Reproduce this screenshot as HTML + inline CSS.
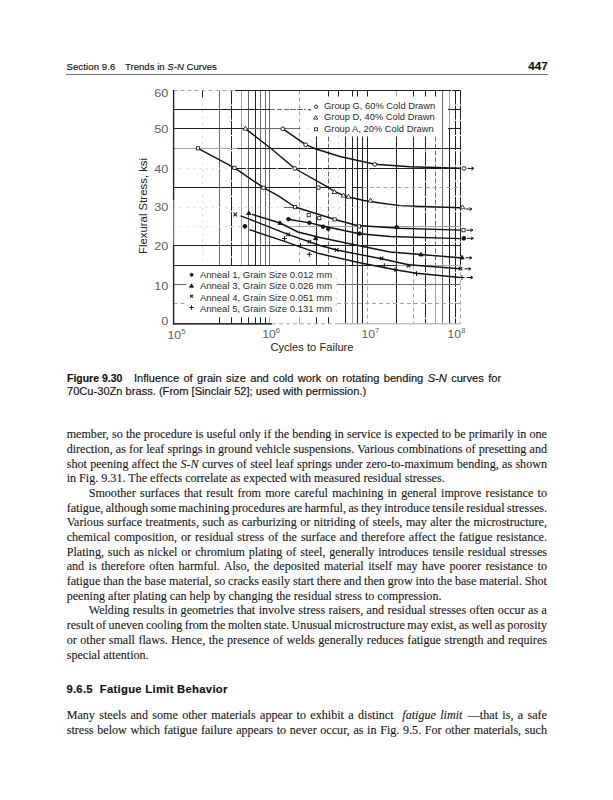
<!DOCTYPE html>
<html><head><meta charset="utf-8">
<style>
html,body{margin:0;padding:0;background:#fff;}
body{width:613px;height:800px;position:relative;overflow:hidden;color:#161616;}
.abs{position:absolute;white-space:nowrap;}
.sans{font-family:"Liberation Sans",sans-serif;color:#111;-webkit-text-stroke:0.15px #111;}
.ln{position:absolute;left:66.7px;width:480.3px;font-family:"Liberation Serif",serif;font-size:12.1px;line-height:14.68px;text-align:justify;text-align-last:justify;white-space:nowrap;-webkit-text-stroke:0.1px #161616;}
.ln.last{text-align-last:left;}
svg text{font-family:"Liberation Sans",sans-serif;fill:#222;}
.lg1{font-size:9px;fill:#2a2a2a;}
.lg2{font-size:8.7px;fill:#2a2a2a;}
.tk{font-size:10.6px;fill:#606060;}
.ax{font-size:10.3px;}
</style></head><body>
<div class="abs" style="left:66px;top:73.9px;width:481.6px;height:1.3px;background:#707070;"></div>
<svg class="abs" style="left:0;top:0" width="613" height="370" viewBox="0 0 613 370">
<line x1="202.5" y1="90.5" x2="202.5" y2="97.5" stroke="#202020" stroke-width="1.0"/>
<line x1="202.5" y1="97.5" x2="202.5" y2="265.5" stroke="#d0d0d0" stroke-width="1.0" stroke-dasharray="1.5 5"/>
<line x1="219.5" y1="90.5" x2="219.5" y2="265.5" stroke="#6a6a6a" stroke-width="1.0"/>
<line x1="231.5" y1="90.5" x2="231.5" y2="265.5" stroke="#202020" stroke-width="1.0" stroke-dasharray="14 1.2"/>
<line x1="241.5" y1="90.5" x2="241.5" y2="265.5" stroke="#a5a5a5" stroke-width="1.0"/>
<line x1="248.5" y1="90.5" x2="248.5" y2="265.5" stroke="#6a6a6a" stroke-width="1.0"/>
<line x1="255.5" y1="90.5" x2="255.5" y2="265.5" stroke="#202020" stroke-width="1.0"/>
<line x1="260.5" y1="90.5" x2="260.5" y2="265.5" stroke="#6a6a6a" stroke-width="1.0"/>
<line x1="265.5" y1="90.5" x2="265.5" y2="265.5" stroke="#6a6a6a" stroke-width="1.0"/>
<line x1="269.5" y1="90.5" x2="269.5" y2="265.5" stroke="#6a6a6a" stroke-width="1.0"/>
<line x1="299.5" y1="90.5" x2="299.5" y2="265.5" stroke="#a5a5a5" stroke-width="1.0" stroke-dasharray="4 3"/>
<line x1="316.5" y1="136.5" x2="316.5" y2="265.5" stroke="#202020" stroke-width="1.0"/>
<line x1="328.5" y1="136.5" x2="328.5" y2="265.5" stroke="#6a6a6a" stroke-width="1.0" stroke-dasharray="5 2"/>
<line x1="338.5" y1="136.5" x2="338.5" y2="265.5" stroke="#d0d0d0" stroke-width="1.0" stroke-dasharray="1.5 5"/>
<line x1="345.5" y1="136.5" x2="345.5" y2="323.8" stroke="#202020" stroke-width="1.0"/>
<line x1="352.5" y1="136.5" x2="352.5" y2="265.5" stroke="#202020" stroke-width="1.0"/>
<line x1="352.5" y1="265.5" x2="352.5" y2="323.8" stroke="#a5a5a5" stroke-width="1.0"/>
<line x1="357.5" y1="136.5" x2="357.5" y2="323.8" stroke="#202020" stroke-width="1.0"/>
<line x1="362.5" y1="136.5" x2="362.5" y2="323.8" stroke="#202020" stroke-width="1.0"/>
<line x1="367.5" y1="136.5" x2="367.5" y2="265.5" stroke="#202020" stroke-width="1.0"/>
<line x1="367.5" y1="265.5" x2="367.5" y2="323.8" stroke="#a5a5a5" stroke-width="1.0" stroke-dasharray="4 3"/>
<line x1="396.5" y1="136.5" x2="396.5" y2="323.8" stroke="#202020" stroke-width="1.0"/>
<line x1="413.5" y1="136.5" x2="413.5" y2="265.5" stroke="#202020" stroke-width="1.0"/>
<line x1="413.5" y1="265.5" x2="413.5" y2="323.8" stroke="#a5a5a5" stroke-width="1.0" stroke-dasharray="4 3"/>
<line x1="425.5" y1="136.5" x2="425.5" y2="323.8" stroke="#202020" stroke-width="1.0" stroke-dasharray="14 1.2"/>
<line x1="435.5" y1="136.5" x2="435.5" y2="265.5" stroke="#6a6a6a" stroke-width="1.0" stroke-dasharray="5 2"/>
<line x1="435.5" y1="265.5" x2="435.5" y2="323.8" stroke="#a5a5a5" stroke-width="1.0"/>
<line x1="442.5" y1="90.5" x2="442.5" y2="323.8" stroke="#6a6a6a" stroke-width="1.0"/>
<line x1="449.5" y1="90.5" x2="449.5" y2="128.5" stroke="#a5a5a5" stroke-width="1.0"/>
<line x1="449.5" y1="128.5" x2="449.5" y2="323.8" stroke="#202020" stroke-width="1.0"/>
<line x1="455.5" y1="90.5" x2="455.5" y2="323.8" stroke="#202020" stroke-width="1.0" stroke-dasharray="14 1.2"/>
<line x1="460.5" y1="90.5" x2="460.5" y2="265.5" stroke="#202020" stroke-width="1.0" stroke-dasharray="14 1.2"/>
<line x1="460.5" y1="265.5" x2="460.5" y2="323.8" stroke="#a5a5a5" stroke-width="1.0" stroke-dasharray="4 3"/>
<line x1="336.5" y1="278" x2="336.5" y2="317" stroke="#d0d0d0" stroke-width="1.0" stroke-dasharray="1.5 5"/>
<line x1="328.5" y1="90.5" x2="328.5" y2="96.5" stroke="#202020" stroke-width="1.0"/>
<line x1="338.5" y1="90.5" x2="338.5" y2="96.5" stroke="#202020" stroke-width="1.0"/>
<line x1="352.5" y1="90.5" x2="352.5" y2="96.5" stroke="#202020" stroke-width="1.0"/>
<line x1="357.5" y1="90.5" x2="357.5" y2="96.5" stroke="#202020" stroke-width="1.0"/>
<line x1="367.5" y1="90.5" x2="367.5" y2="96.5" stroke="#202020" stroke-width="1.0"/>
<line x1="413.5" y1="90.5" x2="413.5" y2="96.5" stroke="#202020" stroke-width="1.0"/>
<line x1="425.5" y1="90.5" x2="425.5" y2="96.5" stroke="#202020" stroke-width="1.0"/>
<line x1="435.5" y1="90.5" x2="435.5" y2="96.5" stroke="#202020" stroke-width="1.0"/>
<line x1="396.5" y1="90.5" x2="396.5" y2="96.5" stroke="#a5a5a5" stroke-width="1.0"/>
<line x1="219.5" y1="317.3" x2="219.5" y2="323.8" stroke="#202020" stroke-width="1.0"/>
<line x1="231.5" y1="317.3" x2="231.5" y2="323.8" stroke="#202020" stroke-width="1.0"/>
<line x1="241.5" y1="317.3" x2="241.5" y2="323.8" stroke="#202020" stroke-width="1.0"/>
<line x1="248.5" y1="317.3" x2="248.5" y2="323.8" stroke="#202020" stroke-width="1.0"/>
<line x1="255.5" y1="317.3" x2="255.5" y2="323.8" stroke="#202020" stroke-width="1.0"/>
<line x1="260.5" y1="317.3" x2="260.5" y2="323.8" stroke="#202020" stroke-width="1.0"/>
<line x1="265.5" y1="317.3" x2="265.5" y2="323.8" stroke="#202020" stroke-width="1.0"/>
<line x1="316.5" y1="317.3" x2="316.5" y2="323.8" stroke="#202020" stroke-width="1.0"/>
<line x1="328.5" y1="317.3" x2="328.5" y2="323.8" stroke="#202020" stroke-width="1.0"/>
<line x1="269.5" y1="317.3" x2="269.5" y2="323.8" stroke="#a5a5a5" stroke-width="1.0"/>
<line x1="299.5" y1="317.3" x2="299.5" y2="323.8" stroke="#a5a5a5" stroke-width="1.0"/>
<line x1="173.5" y1="90.5" x2="235" y2="90.5" stroke="#a5a5a5" stroke-width="1.0" stroke-dasharray="4 3"/>
<line x1="235" y1="90.5" x2="437" y2="90.5" stroke="#202020" stroke-width="1.0"/>
<line x1="437" y1="90.5" x2="460.5" y2="90.5" stroke="#202020" stroke-width="1.0" stroke-dasharray="14 1.2"/>
<line x1="173.5" y1="109.5" x2="270" y2="109.5" stroke="#202020" stroke-width="1.0"/>
<line x1="270" y1="109.5" x2="306" y2="109.5" stroke="#6a6a6a" stroke-width="1.0" stroke-dasharray="5 2"/>
<line x1="448" y1="109.5" x2="460.5" y2="109.5" stroke="#202020" stroke-width="1.0"/>
<line x1="173.5" y1="128.5" x2="245" y2="128.5" stroke="#202020" stroke-width="1.0"/>
<line x1="245" y1="128.5" x2="300" y2="128.5" stroke="#6a6a6a" stroke-width="1.0"/>
<line x1="300" y1="128.5" x2="313" y2="128.5" stroke="#d0d0d0" stroke-width="1.0" stroke-dasharray="1.5 5"/>
<line x1="448" y1="128.5" x2="460.5" y2="128.5" stroke="#202020" stroke-width="1.0"/>
<line x1="173.5" y1="148.5" x2="237" y2="148.5" stroke="#a5a5a5" stroke-width="1.0"/>
<line x1="237" y1="148.5" x2="460.5" y2="148.5" stroke="#202020" stroke-width="1.0"/>
<line x1="173.5" y1="168.5" x2="232" y2="168.5" stroke="#d0d0d0" stroke-width="1.0" stroke-dasharray="1.5 5"/>
<line x1="232" y1="168.5" x2="370" y2="168.5" stroke="#202020" stroke-width="1.0" stroke-dasharray="14 1.2"/>
<line x1="370" y1="168.5" x2="460.5" y2="168.5" stroke="#202020" stroke-width="1.0"/>
<line x1="173.5" y1="187.5" x2="345" y2="187.5" stroke="#202020" stroke-width="1.0"/>
<line x1="352" y1="187.5" x2="362.5" y2="187.5" stroke="#202020" stroke-width="1.0"/>
<line x1="362.5" y1="187.5" x2="460.5" y2="187.5" stroke="#a5a5a5" stroke-width="1.0" stroke-dasharray="4 3"/>
<line x1="173.5" y1="207.5" x2="284" y2="207.5" stroke="#d0d0d0" stroke-width="1.0" stroke-dasharray="1.5 5"/>
<line x1="284" y1="207.5" x2="295" y2="207.5" stroke="#6a6a6a" stroke-width="1.0"/>
<line x1="300" y1="207.5" x2="413" y2="207.5" stroke="#d0d0d0" stroke-width="1.0" stroke-dasharray="1.5 5"/>
<line x1="413" y1="207.5" x2="460.5" y2="207.5" stroke="#a5a5a5" stroke-width="1.0"/>
<line x1="173.5" y1="226.5" x2="290" y2="226.5" stroke="#d0d0d0" stroke-width="1.0" stroke-dasharray="1.5 5"/>
<line x1="290" y1="226.5" x2="460.5" y2="226.5" stroke="#a5a5a5" stroke-width="1.0"/>
<line x1="173.5" y1="245.5" x2="460.5" y2="245.5" stroke="#202020" stroke-width="1.0"/>
<line x1="173.5" y1="265.5" x2="396.5" y2="265.5" stroke="#202020" stroke-width="1.0"/>
<line x1="396.5" y1="265.5" x2="460.5" y2="265.5" stroke="#a5a5a5" stroke-width="1.0"/>
<line x1="173.5" y1="284.5" x2="186" y2="284.5" stroke="#6a6a6a" stroke-width="1.0"/>
<line x1="337" y1="284.5" x2="460.5" y2="284.5" stroke="#6a6a6a" stroke-width="1.0"/>
<line x1="173.5" y1="303.5" x2="186" y2="303.5" stroke="#a5a5a5" stroke-width="1.0" stroke-dasharray="4 3"/>
<line x1="337" y1="303.5" x2="460.5" y2="303.5" stroke="#a5a5a5" stroke-width="1.0" stroke-dasharray="4 3"/>
<line x1="173" y1="323.8" x2="272" y2="323.8" stroke="#202020" stroke-width="1.0"/>
<line x1="272" y1="323.8" x2="337" y2="323.8" stroke="#a5a5a5" stroke-width="1.0" stroke-dasharray="4 3"/>
<line x1="337" y1="323.8" x2="460.5" y2="323.8" stroke="#a5a5a5" stroke-width="1.0"/>
<line x1="290" y1="109.5" x2="306" y2="109.5" stroke="#6a6a6a" stroke-width="1.0" stroke-dasharray="5 2"/>
<line x1="308" y1="109.8" x2="311" y2="109.8" stroke="#202020" stroke-width="1.0"/>
<line x1="173.6" y1="90" x2="173.6" y2="200" stroke="#202020" stroke-width="1.4"/>
<line x1="173.6" y1="200" x2="173.6" y2="245" stroke="#6a6a6a" stroke-width="1.2"/>
<line x1="173.6" y1="245" x2="173.6" y2="324.4" stroke="#202020" stroke-width="1.4"/>
<line x1="173" y1="323.8" x2="272" y2="323.8" stroke="#202020" stroke-width="1.3"/>
<path d="M282.6,128.6 L305.7,144.6 L316,149 L340,156.5 L360,161 L375,164.3 L410,166.8 L460,168.3" fill="none" stroke="#111" stroke-width="1.4" stroke-linejoin="round"/>
<path d="M245.4,128.6 L270.7,148.3 L294.8,168.5 L328.3,187.3 L334.4,191.5 L343.5,195.3 L352,197.8 L364,200.5 L380,203 L400,205.6 L460,207.7" fill="none" stroke="#111" stroke-width="1.4" stroke-linejoin="round"/>
<path d="M198,148.3 L234.5,167.8 L263.5,187.7 L278.8,196.2 L295,207 L335,219.5 L357,225.5 L400,228.3 L460,230.1" fill="none" stroke="#111" stroke-width="1.4" stroke-linejoin="round"/>
<path d="M288.3,219.3 L309.6,222.9 L323.8,226.2 L359.5,233.7 L390,236.5 L460,238.6" fill="none" stroke="#111" stroke-width="1.4" stroke-linejoin="round"/>
<path d="M252,214.3 L280,223 L298,232 L320,237.5 L352,244.2 L390,252 L421,254.5 L460,257.8" fill="none" stroke="#111" stroke-width="1.4" stroke-linejoin="round"/>
<path d="M240.6,215.8 L288,234.3 L320,245.5 L336.6,250 L381.5,258.8 L408.5,264.8 L460,268.8" fill="none" stroke="#111" stroke-width="1.4" stroke-linejoin="round"/>
<path d="M249.4,229.6 L284.5,241.4 L320,253.8 L362,263.3 L398,270.3 L416.5,273.3 L460,277.5" fill="none" stroke="#111" stroke-width="1.4" stroke-linejoin="round"/>
<circle cx="282.8" cy="128.8" r="1.9" fill="#fff" stroke="#111" stroke-width="0.9"/>
<circle cx="305.7" cy="144.8" r="1.9" fill="#fff" stroke="#111" stroke-width="0.9"/>
<circle cx="374.8" cy="164.4" r="1.9" fill="#fff" stroke="#111" stroke-width="0.9"/>
<circle cx="464" cy="168.4" r="1.9" fill="#fff" stroke="#111" stroke-width="0.9"/>
<line x1="467.5" y1="168.4" x2="473.5" y2="168.4" stroke="#111" stroke-width="1.0"/>
<path d="M471.5,166.9 L474,168.4 L471.5,169.9" fill="none" stroke="#111" stroke-width="0.9"/>
<path d="M245.4,126.1 L247.78,130.1 L243.03,130.1 Z" fill="#fff" stroke="#111" stroke-width="0.8"/>
<path d="M334.4,189.5 L336.77,193.5 L332.02,193.5 Z" fill="#fff" stroke="#111" stroke-width="0.8"/>
<path d="M343.5,193.1 L345.88,197.1 L341.12,197.1 Z" fill="#fff" stroke="#111" stroke-width="0.8"/>
<path d="M348.5,194.3 L350.88,198.3 L346.12,198.3 Z" fill="#fff" stroke="#111" stroke-width="0.8"/>
<path d="M370.4,198 L372.77,202 L368.02,202 Z" fill="#fff" stroke="#111" stroke-width="0.8"/>
<circle cx="294.8" cy="168.5" r="1.9" fill="#fff" stroke="#111" stroke-width="0.9"/>
<path d="M462.5,204.8 L464.88,208.8 L460.12,208.8 Z" fill="#fff" stroke="#111" stroke-width="0.8"/>
<line x1="465.5" y1="209" x2="471.5" y2="209" stroke="#111" stroke-width="1.0"/>
<path d="M469.5,207.5 L472,209 L469.5,210.5" fill="none" stroke="#111" stroke-width="0.9"/>
<rect x="196.4" y="146.7" width="3.2" height="3.2" fill="#fff" stroke="#111" stroke-width="0.8"/>
<rect x="232.9" y="166.2" width="3.2" height="3.2" fill="#fff" stroke="#111" stroke-width="0.8"/>
<rect x="261.9" y="186.1" width="3.2" height="3.2" fill="#fff" stroke="#111" stroke-width="0.8"/>
<rect x="293.4" y="205.6" width="3.2" height="3.2" fill="#fff" stroke="#111" stroke-width="0.8"/>
<rect x="307.1" y="213.6" width="3.2" height="3.2" fill="#fff" stroke="#111" stroke-width="0.8"/>
<rect x="317.7" y="216.6" width="3.2" height="3.2" fill="#fff" stroke="#111" stroke-width="0.8"/>
<rect x="333" y="217.8" width="3.2" height="3.2" fill="#fff" stroke="#111" stroke-width="0.8"/>
<rect x="357.4" y="224.8" width="3.2" height="3.2" fill="#fff" stroke="#111" stroke-width="0.8"/>
<rect x="461.9" y="228.6" width="3.2" height="3.2" fill="#fff" stroke="#111" stroke-width="0.8"/>
<line x1="466.5" y1="230.2" x2="472.5" y2="230.2" stroke="#111" stroke-width="1.0"/>
<path d="M470.5,228.7 L473,230.2 L470.5,231.7" fill="none" stroke="#111" stroke-width="0.9"/>
<rect x="316.8" y="186" width="3.2" height="3.2" fill="#fff" stroke="#111" stroke-width="0.8"/>
<circle cx="288.5" cy="219.2" r="1.8" fill="#111" stroke="#111" stroke-width="0.9"/>
<circle cx="309.4" cy="222.8" r="1.8" fill="#111" stroke="#111" stroke-width="0.9"/>
<circle cx="323" cy="226.7" r="1.8" fill="#111" stroke="#111" stroke-width="0.9"/>
<circle cx="328.2" cy="228.8" r="1.8" fill="#111" stroke="#111" stroke-width="0.9"/>
<circle cx="359.5" cy="233.6" r="1.8" fill="#111" stroke="#111" stroke-width="0.9"/>
<circle cx="396.5" cy="227.3" r="1.8" fill="#111" stroke="#111" stroke-width="0.9"/>
<circle cx="463.8" cy="238.3" r="1.9" fill="#111" stroke="#111" stroke-width="0.9"/>
<line x1="467" y1="238.3" x2="473" y2="238.3" stroke="#111" stroke-width="1.0"/>
<path d="M471,236.8 L473.5,238.3 L471,239.8" fill="none" stroke="#111" stroke-width="0.9"/>
<path d="M248.8,210.9 L250.99,214.58 L246.62,214.58 Z" fill="#111" stroke="#111" stroke-width="0.8"/>
<path d="M280,220.7 L282.19,224.38 L277.81,224.38 Z" fill="#111" stroke="#111" stroke-width="0.8"/>
<path d="M315.7,236 L317.88,239.68 L313.51,239.68 Z" fill="#111" stroke="#111" stroke-width="0.8"/>
<path d="M421,252.3 L423.19,255.98 L418.81,255.98 Z" fill="#111" stroke="#111" stroke-width="0.8"/>
<path d="M462,255.3 L464.19,258.98 L459.81,258.98 Z" fill="#111" stroke="#111" stroke-width="0.8"/>
<line x1="465.5" y1="257.8" x2="471.5" y2="257.8" stroke="#111" stroke-width="1.0"/>
<path d="M469.5,256.3 L472,257.8 L469.5,259.3" fill="none" stroke="#111" stroke-width="0.9"/>
<line x1="233.5" y1="212.7" x2="237.1" y2="216.3" stroke="#111" stroke-width="1.1"/>
<line x1="233.5" y1="216.3" x2="237.1" y2="212.7" stroke="#111" stroke-width="1.1"/>
<line x1="286.2" y1="232.7" x2="289.8" y2="236.3" stroke="#111" stroke-width="1.1"/>
<line x1="286.2" y1="236.3" x2="289.8" y2="232.7" stroke="#111" stroke-width="1.1"/>
<line x1="307.6" y1="239.8" x2="311.2" y2="243.4" stroke="#111" stroke-width="1.1"/>
<line x1="307.6" y1="243.4" x2="311.2" y2="239.8" stroke="#111" stroke-width="1.1"/>
<line x1="334.8" y1="248.2" x2="338.4" y2="251.8" stroke="#111" stroke-width="1.1"/>
<line x1="334.8" y1="251.8" x2="338.4" y2="248.2" stroke="#111" stroke-width="1.1"/>
<line x1="379.7" y1="256.6" x2="383.3" y2="260.2" stroke="#111" stroke-width="1.1"/>
<line x1="379.7" y1="260.2" x2="383.3" y2="256.6" stroke="#111" stroke-width="1.1"/>
<line x1="406.7" y1="263.8" x2="410.3" y2="267.4" stroke="#111" stroke-width="1.1"/>
<line x1="406.7" y1="267.4" x2="410.3" y2="263.8" stroke="#111" stroke-width="1.1"/>
<line x1="458.7" y1="266.8" x2="462.3" y2="270.4" stroke="#111" stroke-width="1.1"/>
<line x1="458.7" y1="270.4" x2="462.3" y2="266.8" stroke="#111" stroke-width="1.1"/>
<line x1="464.5" y1="268.8" x2="470.5" y2="268.8" stroke="#111" stroke-width="1.0"/>
<path d="M468.5,267.3 L471,268.8 L468.5,270.3" fill="none" stroke="#111" stroke-width="0.9"/>
<circle cx="244.9" cy="226.3" r="1.9" fill="#111" stroke="#111" stroke-width="0.9"/>
<line x1="282.1" y1="238.6" x2="286.9" y2="238.6" stroke="#111" stroke-width="1.0"/>
<line x1="284.5" y1="236.2" x2="284.5" y2="241" stroke="#111" stroke-width="1.0"/>
<line x1="298.1" y1="245.4" x2="302.9" y2="245.4" stroke="#111" stroke-width="1.0"/>
<line x1="300.5" y1="243" x2="300.5" y2="247.8" stroke="#111" stroke-width="1.0"/>
<line x1="306.9" y1="254.3" x2="311.7" y2="254.3" stroke="#111" stroke-width="1.0"/>
<line x1="309.3" y1="251.9" x2="309.3" y2="256.7" stroke="#111" stroke-width="1.0"/>
<line x1="381.9" y1="265.7" x2="386.7" y2="265.7" stroke="#111" stroke-width="1.0"/>
<line x1="384.3" y1="263.3" x2="384.3" y2="268.1" stroke="#111" stroke-width="1.0"/>
<line x1="392.6" y1="269.6" x2="397.4" y2="269.6" stroke="#111" stroke-width="1.0"/>
<line x1="395" y1="267.2" x2="395" y2="272" stroke="#111" stroke-width="1.0"/>
<line x1="414.1" y1="273.6" x2="418.9" y2="273.6" stroke="#111" stroke-width="1.0"/>
<line x1="416.5" y1="271.2" x2="416.5" y2="276" stroke="#111" stroke-width="1.0"/>
<line x1="459.6" y1="277.5" x2="464.4" y2="277.5" stroke="#111" stroke-width="1.0"/>
<line x1="462" y1="275.1" x2="462" y2="279.9" stroke="#111" stroke-width="1.0"/>
<line x1="466.5" y1="277.5" x2="472.5" y2="277.5" stroke="#111" stroke-width="1.0"/>
<path d="M470.5,276 L473,277.5 L470.5,279" fill="none" stroke="#111" stroke-width="0.9"/>
<circle cx="316.1" cy="106.7" r="1.6" fill="#fff" stroke="#111" stroke-width="0.9"/>
<path d="M315.7,115.6 L317.79,119.12 L313.61,119.12 Z" fill="#fff" stroke="#111" stroke-width="0.8"/>
<rect x="314.5" y="127.8" width="3" height="3" fill="#fff" stroke="#111" stroke-width="0.8"/>
<circle cx="191.6" cy="274.8" r="1.5" fill="#111" stroke="#111" stroke-width="0.9"/>
<path d="M191.5,283.9 L193.5,287.26 L189.5,287.26 Z" fill="#111" stroke="#111" stroke-width="0.8"/>
<line x1="190.1" y1="294.8" x2="192.9" y2="297.6" stroke="#111" stroke-width="1.1"/>
<line x1="190.1" y1="297.6" x2="192.9" y2="294.8" stroke="#111" stroke-width="1.1"/>
<line x1="189.3" y1="307.5" x2="193.7" y2="307.5" stroke="#111" stroke-width="1.0"/>
<line x1="191.5" y1="305.3" x2="191.5" y2="309.7" stroke="#111" stroke-width="1.0"/>
<text transform="translate(324,108.8) scale(1.04,1)" class="lg1">Group G, 60% Cold Drawn</text>
<text transform="translate(324,120.2) scale(1.04,1)" class="lg1">Group D, 40% Cold Drawn</text>
<text transform="translate(324,131.5) scale(1.04,1)" class="lg1">Group A, 20% Cold Drawn</text>
<text transform="translate(199.9,277.5) scale(1.095,1)" class="lg2">Anneal 1, Grain Size 0.012 mm</text>
<text transform="translate(199.9,288.8) scale(1.095,1)" class="lg2">Anneal 3, Grain Size 0.026 mm</text>
<text transform="translate(199.9,300.6) scale(1.095,1)" class="lg2">Anneal 4, Grain Size 0.051 mm</text>
<text transform="translate(199.9,312.1) scale(1.095,1)" class="lg2">Anneal 5, Grain Size 0.131 mm</text>
<text transform="translate(168.3,96.8) scale(1.2,1)" class="tk" text-anchor="end">60</text>
<text transform="translate(168.3,132.9) scale(1.2,1)" class="tk" text-anchor="end">50</text>
<text transform="translate(168.3,172.8) scale(1.2,1)" class="tk" text-anchor="end">40</text>
<text transform="translate(168.3,211.3) scale(1.2,1)" class="tk" text-anchor="end">30</text>
<text transform="translate(168.3,250) scale(1.2,1)" class="tk" text-anchor="end">20</text>
<text transform="translate(168.3,289.5) scale(1.2,1)" class="tk" text-anchor="end">10</text>
<text transform="translate(168.3,324.6) scale(1.2,1)" class="tk" text-anchor="end">0</text>
<text transform="translate(167.6,338.5) scale(1.15,1)" class="tk">10<tspan dy="-4.6" font-size="6.6">5</tspan></text>
<text transform="translate(262.2,337.7) scale(1.15,1)" class="tk">10<tspan dy="-4.6" font-size="6.6">6</tspan></text>
<text transform="translate(361.5,337.7) scale(1.15,1)" class="tk">10<tspan dy="-4.6" font-size="6.6">7</tspan></text>
<text transform="translate(447.6,337.7) scale(1.15,1)" class="tk">10<tspan dy="-4.6" font-size="6.6">8</tspan></text>
<text transform="translate(270.4,350.8) scale(1.085,1)" class="ax">Cycles to Failure</text>
<text transform="translate(147.2,254) rotate(-90) scale(1.105,1)" class="ax">Flexural Stress, ksi</text>
</svg>
<div class="abs sans" id="h1" style="left:66.4px;top:60.71px;font-size:9.6px;line-height:11.52px;letter-spacing:0.1px;">Section 9.6</div>
<div class="abs sans" id="h2" style="left:125px;top:60.71px;font-size:9.6px;line-height:11.52px;letter-spacing:0.0px;">Trends in <i>S-N</i> Curves</div>
<div class="abs sans" id="h3" style="left:528.2px;top:58.73px;font-size:11.7px;line-height:14.04px;font-weight:bold;">447</div>
<div class="abs sans" id="cap1" style="left:66.6px;top:373.13px;font-size:10px;line-height:12.0px;transform:scaleX(1.047);transform-origin:0 0;"><b>Figure 9.30</b></div>
<div class="abs sans" id="cap1b" style="left:134.2px;top:373.13px;font-size:10px;line-height:12.0px;transform:scaleX(1.11);transform-origin:0 0;width:330.8px;text-align:justify;text-align-last:justify;">Influence of grain size and cold work on rotating bending <i>S-N</i> curves for</div>
<div class="abs sans" id="cap2" style="left:66.6px;top:386.23px;font-size:10px;line-height:12.0px;transform:scaleX(1.11);transform-origin:0 0;">70Cu-30Zn brass. (From [Sinclair 52]; used with permission.)</div>
<div class="abs sans" id="hd" style="left:66.4px;top:682.8px;font-size:11.3px;line-height:13.56px;font-weight:bold;letter-spacing:0.28px;color:#111;">9.6.5&nbsp;&nbsp;Fatigue Limit Behavior</div>
<div class="ln" style="top:427.33px;">member, so the procedure is useful only if the bending in service is expected to be primarily in one</div>
<div class="ln" style="top:442.01px;">direction, as for leaf springs in ground vehicle suspensions. Various combinations of presetting and</div>
<div class="ln" style="top:456.69px;">shot peening affect the <i>S-N</i> curves of steel leaf springs under zero-to-maximum bending, as shown</div>
<div class="ln last" style="top:471.37px;">in Fig. 9.31. The effects correlate as expected with measured residual stresses.</div>
<div class="ln" style="top:486.05px;left:88.7px;width:458.3px;">Smoother surfaces that result from more careful machining in general improve resistance to</div>
<div class="ln" style="top:500.73px;word-spacing:-1px;">fatigue, although some machining procedures are harmful, as they introduce tensile residual stresses.</div>
<div class="ln" style="top:515.41px;">Various surface treatments, such as carburizing or nitriding of steels, may alter the microstructure,</div>
<div class="ln" style="top:530.09px;">chemical composition, or residual stress of the surface and therefore affect the fatigue resistance.</div>
<div class="ln" style="top:544.77px;">Plating, such as nickel or chromium plating of steel, generally introduces tensile residual stresses</div>
<div class="ln" style="top:559.45px;">and is therefore often harmful. Also, the deposited material itself may have poorer resistance to</div>
<div class="ln" style="top:574.13px;word-spacing:-0.6px;">fatigue than the base material, so cracks easily start there and then grow into the base material. Shot</div>
<div class="ln last" style="top:588.81px;">peening after plating can help by changing the residual stress to compression.</div>
<div class="ln" style="top:603.49px;left:88.7px;width:458.3px;">Welding results in geometries that involve stress raisers, and residual stresses often occur as a</div>
<div class="ln" style="top:618.17px;word-spacing:-1px;">result of uneven cooling from the molten state. Unusual microstructure may exist, as well as porosity</div>
<div class="ln" style="top:632.85px;">or other small flaws. Hence, the presence of welds generally reduces fatigue strength and requires</div>
<div class="ln last" style="top:647.53px;">special attention.</div>
<div class="ln" style="top:707.98px">Many steels and some other materials appear to exhibit a distinct&nbsp; <i>fatigue limit</i> &#8202;—that is, a safe</div>
<div class="ln" style="top:722.66px">stress below which fatigue failure appears to never occur, as in Fig. 9.5. For other materials, such</div>
</body></html>
